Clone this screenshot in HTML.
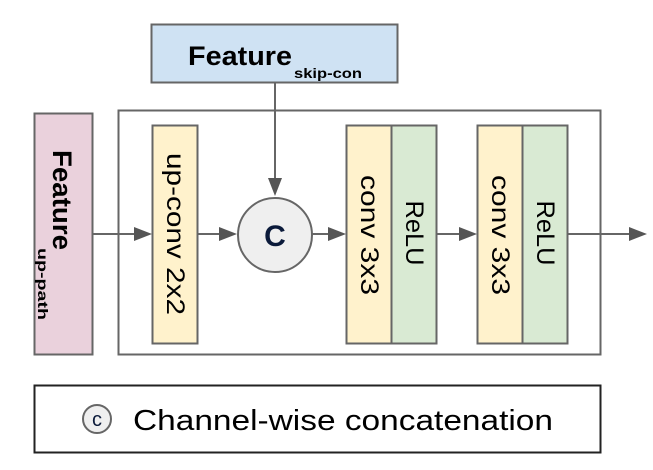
<!DOCTYPE html>
<html><head><meta charset="utf-8"><style>
html,body{margin:0;padding:0;background:#fff;}
svg{display:block;}
text{font-family:"Liberation Sans",Arial,sans-serif;}
</style></head><body>
<svg width="653" height="470" viewBox="0 0 653 470" xmlns="http://www.w3.org/2000/svg">
<!-- outer box -->
<rect x="118.5" y="110.5" width="482" height="244" fill="none" stroke="#666" stroke-width="2"/>
<!-- skip-con box -->
<rect x="151.5" y="24.5" width="246" height="58" fill="#cfe2f3" stroke="#666" stroke-width="2"/>
<text x="188" y="65" font-size="27" font-weight="bold" fill="#000" textLength="104" lengthAdjust="spacingAndGlyphs">Feature</text>
<text x="294" y="78" font-size="14" font-weight="bold" fill="#000" textLength="68" lengthAdjust="spacingAndGlyphs">skip-con</text>
<!-- pink box -->
<rect x="34.5" y="113.5" width="58" height="241" fill="#ead1dc" stroke="#666" stroke-width="2"/>
<text transform="translate(62,150) rotate(90)" x="0" y="0" font-size="27" font-weight="bold" dominant-baseline="central" textLength="100" lengthAdjust="spacingAndGlyphs">Feature</text>
<text transform="translate(43,248) rotate(90)" x="0" y="0" font-size="14" font-weight="bold" dominant-baseline="central" textLength="72" lengthAdjust="spacingAndGlyphs">up-path</text>
<!-- up-conv -->
<rect x="152.5" y="125.5" width="45" height="218" fill="#fff2cc" stroke="#666" stroke-width="2"/>
<text transform="translate(175,234) rotate(90)" text-anchor="middle" dominant-baseline="central" font-size="25" textLength="162" lengthAdjust="spacingAndGlyphs">up-conv 2x2</text>
<!-- conv relu 1 -->
<rect x="346.5" y="125.5" width="45" height="218" fill="#fff2cc" stroke="#666" stroke-width="2"/>
<rect x="391.5" y="125.5" width="45" height="218" fill="#d9ead3" stroke="#666" stroke-width="2"/>
<text transform="translate(369,235) rotate(90)" text-anchor="middle" dominant-baseline="central" font-size="25" textLength="120" lengthAdjust="spacingAndGlyphs">conv 3x3</text>
<text transform="translate(414,233) rotate(90)" text-anchor="middle" dominant-baseline="central" font-size="25" textLength="65" lengthAdjust="spacingAndGlyphs">ReLU</text>
<!-- conv relu 2 -->
<rect x="477.5" y="125.5" width="45" height="218" fill="#fff2cc" stroke="#666" stroke-width="2"/>
<rect x="522.5" y="125.5" width="45" height="218" fill="#d9ead3" stroke="#666" stroke-width="2"/>
<text transform="translate(500,235) rotate(90)" text-anchor="middle" dominant-baseline="central" font-size="25" textLength="120" lengthAdjust="spacingAndGlyphs">conv 3x3</text>
<text transform="translate(545,233) rotate(90)" text-anchor="middle" dominant-baseline="central" font-size="25" textLength="65" lengthAdjust="spacingAndGlyphs">ReLU</text>
<!-- circle -->
<circle cx="275" cy="235" r="37" fill="#efefef" stroke="#666" stroke-width="2"/>
<text x="275" y="246" text-anchor="middle" font-size="30" font-weight="bold" fill="#0b1a3a">C</text>
<!-- connectors -->
<g stroke="#666" stroke-width="2" fill="none">
<line x1="93" y1="234" x2="136" y2="234"/>
<line x1="197" y1="234" x2="221" y2="234"/>
<line x1="312" y1="234" x2="330" y2="234"/>
<line x1="437" y1="234" x2="461" y2="234"/>
<line x1="568" y1="234" x2="631" y2="234"/>
<line x1="275" y1="83" x2="275" y2="181"/>
</g>
<g fill="#555">
<polygon points="134,227 152,234 134,241"/>
<polygon points="219,227 237,234 219,241"/>
<polygon points="328,227 346,234 328,241"/>
<polygon points="459,227 477,234 459,241"/>
<polygon points="629,227 647,234 629,241"/>
<polygon points="268,178 282,178 275,196"/>
</g>
<!-- legend -->
<rect x="34.5" y="385.5" width="566" height="67" fill="#fff" stroke="#222" stroke-width="2"/>
<circle cx="97" cy="419" r="14" fill="#efefef" stroke="#666" stroke-width="2"/>
<text x="97" y="426" text-anchor="middle" font-size="20" fill="#0b1a3a">c</text>
<text x="133" y="430" font-size="29" fill="#000" textLength="420" lengthAdjust="spacingAndGlyphs">Channel-wise concatenation</text>
</svg>
</body></html>
